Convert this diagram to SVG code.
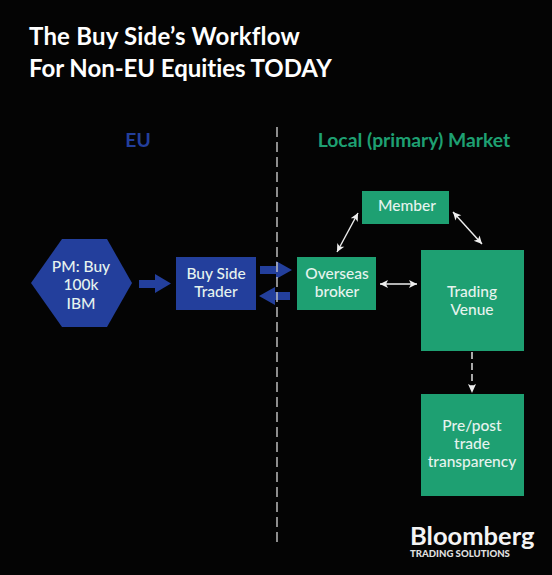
<svg xmlns="http://www.w3.org/2000/svg" width="552" height="575" viewBox="0 0 552 575">
<style>
text{font-family:Lato,"Noto Sans","Liberation Sans",sans-serif;text-anchor:middle}
.t{font-size:24px;font-weight:700;fill:#fff;text-anchor:start}
.l{font-size:15.5px;font-weight:500;fill:#e6f3ee}
.h{font-size:19.3px;font-weight:700}
.b{fill:#233f9c}
.g{fill:#1ea072}
.w{stroke:#eee;stroke-width:1.4;fill:none;marker-start:url(#s);marker-end:url(#e)}
</style>
<defs>
<marker id="e" markerUnits="userSpaceOnUse" markerWidth="10" markerHeight="10" refX="8" refY="4" orient="auto"><path d="M0 0L8 4L0 8L2 4Z" fill="#eee"/></marker>
<marker id="s" markerUnits="userSpaceOnUse" markerWidth="10" markerHeight="10" refX="0" refY="4" orient="auto"><path d="M8 0L0 4L8 8L6 4Z" fill="#eee"/></marker>
</defs>
<rect width="552" height="575" fill="#040404"/>
<g id="title"><text class="t" x="29" y="45" letter-spacing="0.2">The Buy Side’s Workflow</text><text class="t" x="29" y="77" letter-spacing="-0.05">For Non-EU Equities TODAY</text></g>
<g id="label-eu"><text class="h" x="138" y="147" fill="#233f9c">EU</text></g>
<g id="label-local"><text class="h" x="414" y="147" fill="#1ea072">Local (primary) Market</text></g>
<g id="connectors">
<path class="b" d="M139 280H155V274L171 283.500L155 293V288H139Z"/>
<path class="b" d="M260 266H276V261L292 270L276 279V274H260Z"/>
<path class="b" d="M290 292H275V287L259 296L275 305V300H290Z"/>
<line x1="277" y1="127" x2="277" y2="545" stroke="#c8c8c8" stroke-width="1.400" stroke-dasharray="10 5"/>
<line class="w" x1="337" y1="252" x2="358" y2="213"/>
<line class="w" x1="453" y1="212" x2="482" y2="244"/>
<line class="w" x1="380" y1="284" x2="417" y2="284"/>
<line x1="472" y1="352" x2="472" y2="386" stroke="#eee" stroke-width="1.400" stroke-dasharray="7 4"/>
<path d="M468 384L472 393L476 384L472 386Z" fill="#eee"/>
</g>
<g id="pm"><path class="b" d="M31 283L62 239H107L132 283L107 327H62Z"/><text class="l" x="81" y="272">PM: Buy</text><text class="l" x="81" y="290">100k</text><text class="l" x="81" y="309">IBM</text></g>
<g id="trader"><rect class="b" x="176" y="257" width="80" height="53"/><text class="l" x="216" y="279">Buy Side</text><text class="l" x="216" y="297">Trader</text></g>
<g id="broker"><rect class="g" x="297" y="257" width="79" height="53"/><text class="l" x="337" y="279">Overseas</text><text class="l" x="337" y="297">broker</text></g>
<g id="member"><rect class="g" x="362" y="191" width="87" height="33"/><text class="l" x="407" y="211">Member</text></g>
<g id="venue"><rect class="g" x="421" y="250" width="103" height="101"/><text class="l" x="472" y="297">Trading</text><text class="l" x="472" y="315">Venue</text></g>
<g id="transparency"><rect class="g" x="421" y="394" width="103" height="102"/><text class="l" x="472" y="431">Pre/post</text><text class="l" x="472" y="449">trade</text><text class="l" x="472" y="467">transparency</text></g>
<g id="logo"><text x="410" y="545" font-size="25.500" font-weight="700" fill="#f4f4f4" style="text-anchor:start">Bloomberg</text><text x="410" y="556.500" font-size="9.600" font-weight="900" fill="#e0e0e0" style="text-anchor:start">TRADING SOLUTIONS</text></g>
</svg>
